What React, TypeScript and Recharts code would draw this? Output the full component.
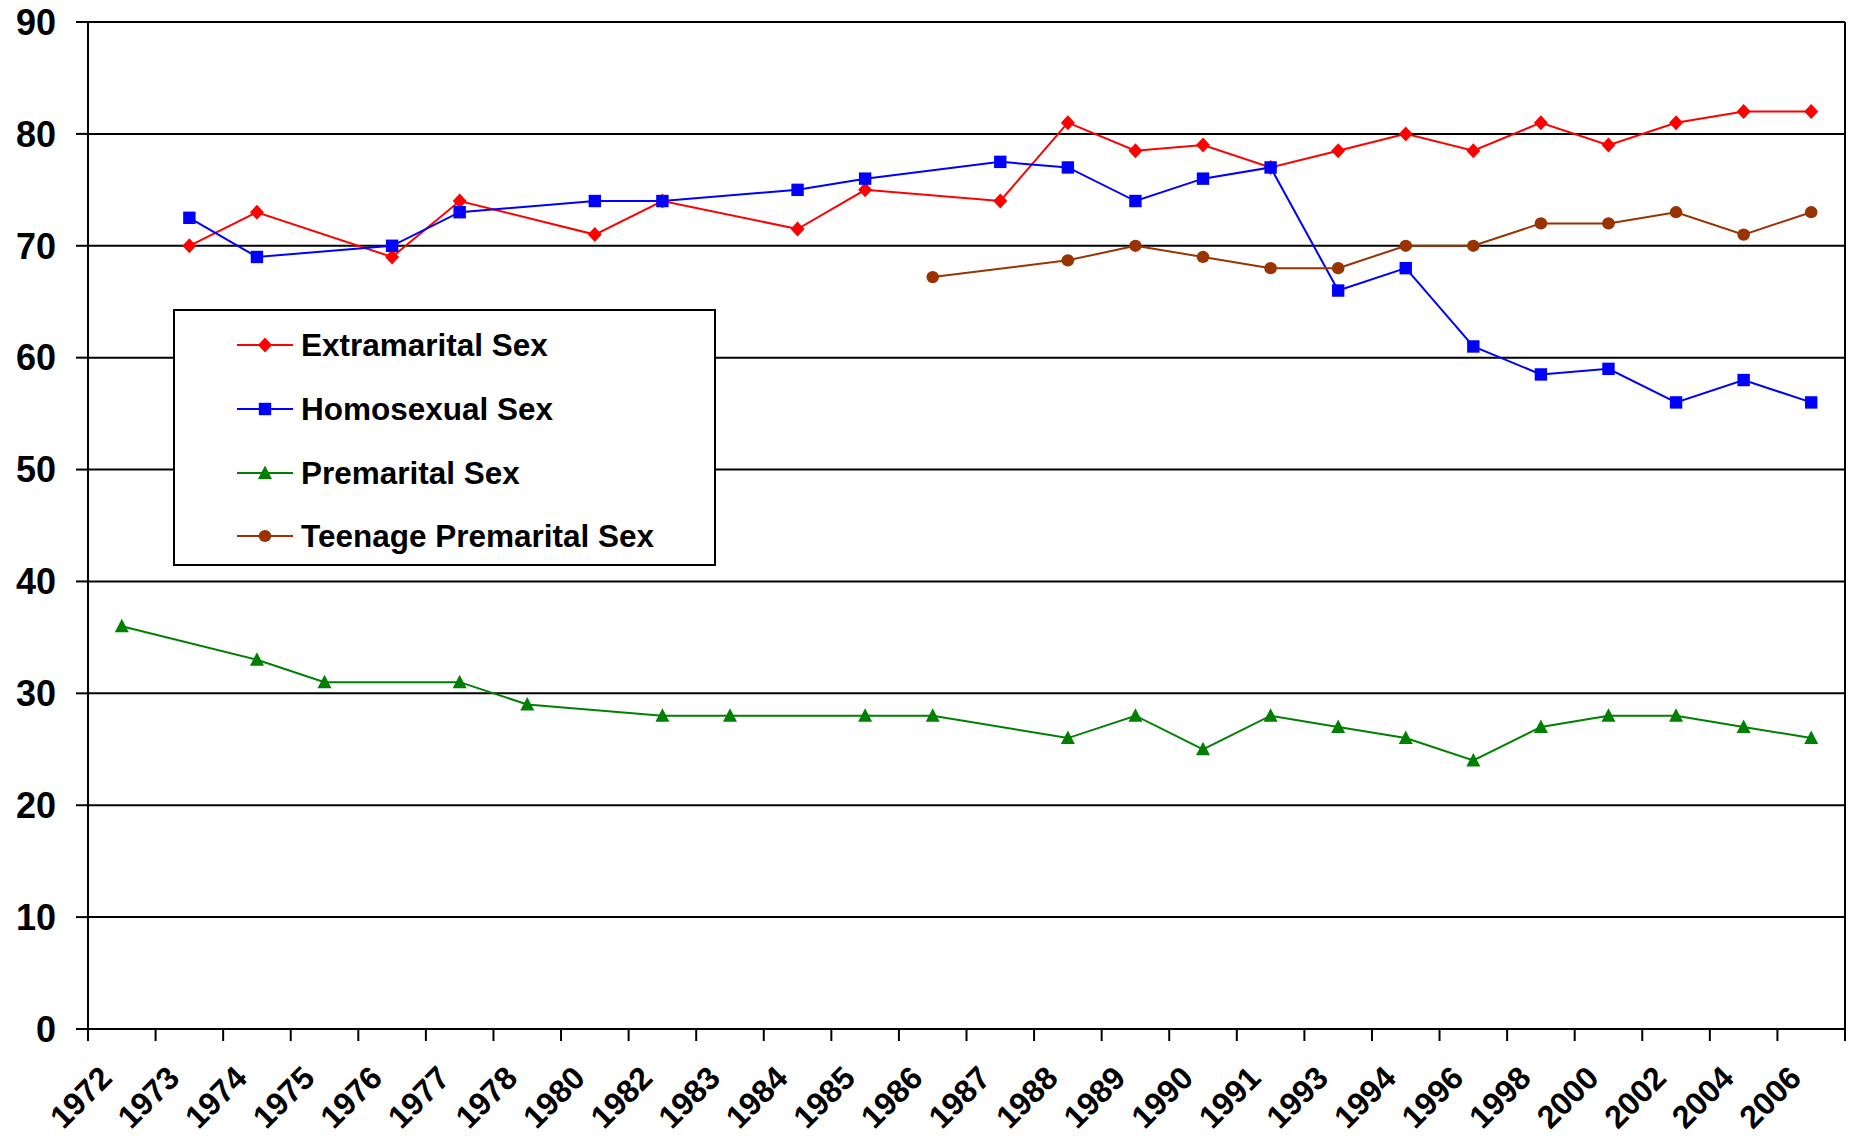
import React from 'react';
import { LineChart, Line, XAxis, YAxis, CartesianGrid, Legend } from 'recharts';

const years = ['1972', '1973', '1974', '1975', '1976', '1977', '1978', '1980', '1982', '1983', '1984', '1985', '1986', '1987', '1988', '1989', '1990', '1991', '1993', '1994', '1996', '1998', '2000', '2002', '2004', '2006'];
const extramarital = [null, 70, 73, null, 69, 74, null, 71, 74, null, 71.5, 75, null, 74, 81, 78.5, 79, 77, 78.5, 80, 78.5, 81, 79, 81, 82, 82];
const homosexual = [null, 72.5, 69, null, 70, 73, null, 74, 74, null, 75, 76, null, 77.5, 77, 74, 76, 77, 66, 68, 61, 58.5, 59, 56, 58, 56];
const premarital = [36, null, 33, 31, null, 31, 29, null, 28, 28, null, 28, 28, null, 26, 28, 25, 28, 27, 26, 24, 27, 28, 28, 27, 26];
const teenage = [null, null, null, null, null, null, null, null, null, null, null, null, 67.2, null, 68.7, 70, 69, 68, 68, 70, 70, 72, 72, 73, 71, 73];
const yTicks = [0, 10, 20, 30, 40, 50, 60, 70, 80, 90];

const seriesNames = ['Extramarital Sex', 'Homosexual Sex', 'Premarital Sex', 'Teenage Premarital Sex'];
const seriesKeys = ['extramarital', 'homosexual', 'premarital', 'teenage'];
const seriesColors = ['#FF0000', '#0000FF', '#008000', '#993300'];
const seriesShapes = ['diamond', 'square', 'triangle', 'circle'];

const data = years.map((y, i) => ({
  year: y,
  extramarital: extramarital[i],
  homosexual: homosexual[i],
  premarital: premarital[i],
  teenage: teenage[i],
}));

const FONT = '"Liberation Sans", Arial, Helvetica, sans-serif';

function markerShape(shape: string, cx: number, cy: number, color: string) {
  if (shape === 'diamond') {
    return <path d={`M${cx},${cy - 7.5} L${cx + 7},${cy} L${cx},${cy + 7.5} L${cx - 7},${cy} Z`} fill={color} stroke="none" />;
  }
  if (shape === 'square') {
    return <rect x={cx - 6.2} y={cy - 6.2} width={12.4} height={12.4} fill={color} stroke="none" />;
  }
  if (shape === 'triangle') {
    return <path d={`M${cx},${cy - 7.5} L${cx + 7},${cy + 6} L${cx - 7},${cy + 6} Z`} fill={color} stroke="none" />;
  }
  return <ellipse cx={cx} cy={cy} rx={6.3} ry={6.1} fill={color} stroke="none" />;
}

const makeDot = (shape: string, color: string) => (props: any) => {
  const { cx, cy, value, index } = props;
  if (cx == null || cy == null || value == null || Number.isNaN(cy)) return <g key={`e-${index}`} />;
  return <g key={`d-${index}`}>{markerShape(shape, cx, cy, color)}</g>;
};

const XTick = (props: any) => {
  const { x, y, payload, index, width, visibleTicksCount } = props;
  const n = visibleTicksCount || years.length;
  const band = width && n ? width / n : 67.6;
  const axisY = y - 12;
  const ax = x - 8;
  const ay = axisY + 51;
  return (
    <g>
      <line x1={x - band / 2} x2={x - band / 2} y1={axisY} y2={axisY + 12} stroke="#000" strokeWidth={2} />
      {index === n - 1 ? (
        <line x1={x + band / 2} x2={x + band / 2} y1={axisY} y2={axisY + 12} stroke="#000" strokeWidth={2} />
      ) : null}
      <text x={ax} y={ay} transform={`rotate(-45, ${ax}, ${ay})`} textAnchor="end" fontFamily={FONT} fontWeight="bold" fontSize={32} fill="#000">
        {payload.value}
      </text>
    </g>
  );
};

const LegendBox = () => (
  <div
    style={{
      position: 'relative',
      width: 543,
      height: 257,
      border: '2px solid #000',
      boxSizing: 'border-box',
      background: '#fff',
      fontFamily: FONT,
    }}
  >
    {seriesNames.map((name, i) => (
      <div key={name} style={{ position: 'absolute', left: 0, top: 34 + i * 63.8 - 22, height: 44, display: 'flex', alignItems: 'center' }}>
        <svg width={120} height={44} style={{ display: 'block' }}>
          <line x1={62} x2={118} y1={22} y2={22} stroke={seriesColors[i]} strokeWidth={2} />
          {markerShape(seriesShapes[i], 90, 22, seriesColors[i])}
        </svg>
        <span style={{ marginLeft: 6, fontSize: 31.5, fontWeight: 'bold', color: '#000', whiteSpace: 'nowrap', lineHeight: '44px' }}>{name}</span>
      </div>
    ))}
  </div>
);

export default function App() {
  return (
    <div style={{ position: 'absolute', left: 0, top: 0, width: 1850, height: 1140, background: '#fff' }}>
      <LineChart width={1850} height={1140} data={data} margin={{ top: 22, right: 4, left: 0, bottom: 0 }}>
        <CartesianGrid horizontal vertical={false} stroke="#000" strokeWidth={2} yAxisId="left" />
        <XAxis
          dataKey="year"
          scale="band"
          interval={0}
          height={111}
          tickSize={12}
          tickMargin={0}
          tickLine={false}
          axisLine={{ stroke: '#000', strokeWidth: 2 }}
          tick={<XTick />}
        />
        <YAxis
          yAxisId="left"
          domain={[0, 90]}
          ticks={yTicks}
          interval={0}
          width={88}
          tickSize={12}
          tickMargin={20}
          axisLine={{ stroke: '#000', strokeWidth: 2 }}
          tickLine={{ stroke: '#000', strokeWidth: 2 }}
          tick={{ fontFamily: FONT, fontWeight: 'bold', fontSize: 36, fill: '#000' }}
        />
        <YAxis
          yAxisId="right"
          orientation="right"
          domain={[0, 90]}
          width={1}
          tick={false}
          tickLine={false}
          axisLine={{ stroke: '#000', strokeWidth: 2 }}
        />
        <Legend
          layout="vertical"
          align="center"
          verticalAlign="middle"
          content={() => <LegendBox />}
          wrapperStyle={{ left: 173, top: 309, width: 543, height: 257 }}
        />
        {seriesKeys.map((k, i) => (
          <Line
            key={k}
            yAxisId="left"
            type="linear"
            dataKey={k}
            name={seriesNames[i]}
            stroke={seriesColors[i]}
            strokeWidth={2}
            connectNulls
            isAnimationActive={false}
            dot={makeDot(seriesShapes[i], seriesColors[i])}
            activeDot={false}
          />
        ))}
      </LineChart>
    </div>
  );
}
